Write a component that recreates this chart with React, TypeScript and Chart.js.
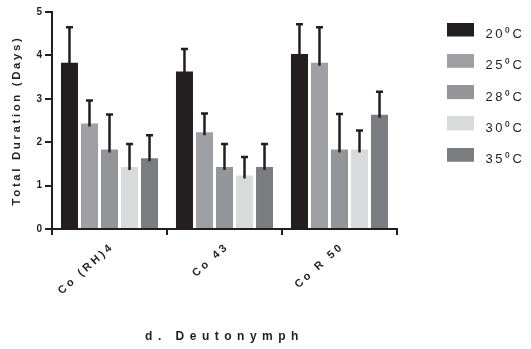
import React, { useEffect, useRef } from "react";
import { Chart, registerables } from "chart.js";

Chart.register(...registerables);

const categories = ["Co (RH)4", "Co 43", "Co R 50"];
const seriesLabels = ["20\u2070C", "25\u2070C", "28\u2070C", "30\u2070C", "35\u2070C"];
const seriesColors = ["#231f20", "#9fa0a3", "#949598", "#d9dadc", "#7b7c7f"];
const values20 = [3.83, 3.63, 4.03];
const values25 = [2.43, 2.23, 3.83];
const values28 = [1.83, 1.43, 1.83];
const values30 = [1.43, 1.23, 1.83];
const values35 = [1.63, 1.43, 2.63];
const errors20 = [0.82, 0.52, 0.69];
const errors25 = [0.53, 0.43, 0.82];
const errors28 = [0.81, 0.53, 0.82];
const errors30 = [0.53, 0.43, 0.44];
const errors35 = [0.53, 0.53, 0.53];
const yTicks = [0, 1, 2, 3, 4, 5];
const xTitle = "d. Deutonymph";
const yTitle = "Total Duration (Days)";

const allValues = [values20, values25, values28, values30, values35];
const allErrors = [errors20, errors25, errors28, errors30, errors35];

const FONT = 'Arial, "Liberation Sans", Helvetica, sans-serif';
const INK = "#231f20";

function makeSwatch(color: string) {
  const c = document.createElement("canvas");
  c.width = 32;
  c.height = 24;
  const g = c.getContext("2d");
  if (g) {
    g.fillStyle = color;
    g.fillRect(0, 0, 27, 14);
  }
  return c;
}

function withSpacing(obj: any, name: string, spacing: string) {
  const key = "__p_" + name;
  if (obj[key]) return;
  const orig = obj[name];
  obj[name] = function (...args: any[]) {
    const ctx = this.ctx;
    ctx.save();
    ctx.letterSpacing = spacing;
    const r = orig.apply(this, args);
    ctx.restore();
    return r;
  };
  obj[key] = true;
}

const layoutPlugin = {
  id: "layoutTweaks",
  beforeLayout(chart: any) {
    const lg = chart.legend;
    if (lg && !lg.__fitPatched) {
      const origFit = lg.fit;
      lg.fit = function () {
        origFit.call(this);
        this.width = 134;
      };
      lg.__fitPatched = true;
    }
  },
  afterLayout(chart: any) {
    const lg = chart.legend;
    if (lg) {
      lg.left = 428.7;
      lg.right = 428.7 + lg.width;
      lg.top = 9.7;
      withSpacing(lg, "draw", "2.5px");
    }
    withSpacing(chart.scales.x, "drawLabels", "3px");
    withSpacing(chart.scales.x, "drawTitle", "5.5px");
    withSpacing(chart.scales.y, "drawTitle", "2.6px");
  },
};

const errorBarPlugin = {
  id: "errorBars",
  afterDatasetsDraw(chart: any) {
    const ctx = chart.ctx;
    const yScale = chart.scales.y;
    ctx.save();
    ctx.strokeStyle = INK;
    ctx.lineWidth = 2.5;
    chart.data.datasets.forEach((ds: any, di: number) => {
      const meta = chart.getDatasetMeta(di);
      meta.data.forEach((bar: any, i: number) => {
        const v = allValues[di][i];
        const e = allErrors[di][i];
        const x = bar.x;
        const yTop = yScale.getPixelForValue(v + e);
        const yBase = yScale.getPixelForValue(v);
        ctx.beginPath();
        ctx.moveTo(x, yBase + 3);
        ctx.lineTo(x, yTop);
        ctx.moveTo(x - 3.5, yTop);
        ctx.lineTo(x + 3.5, yTop);
        ctx.stroke();
      });
    });
    ctx.restore();
  },
};

export default function App() {
  const ref = useRef<HTMLCanvasElement>(null);
  useEffect(() => {
    const canvas = ref.current;
    if (!canvas) return;
    const swatches = seriesColors.map(makeSwatch);
    const chart = new Chart(canvas, {
      type: "bar",
      data: {
        labels: categories,
        datasets: seriesLabels.map((label, i) => ({
          label,
          data: allValues[i],
          backgroundColor: seriesColors[i],
          borderWidth: 0,
          categoryPercentage: 0.87,
          barPercentage: 0.85,
        })),
      },
      options: {
        animation: false,
        responsive: false,
        layout: { padding: { top: 12, left: 0, right: 0, bottom: 0 } },
        plugins: {
          tooltip: { enabled: false },
          legend: {
            position: "right",
            align: "start",
            labels: {
              usePointStyle: true,
              pointStyleWidth: 32,
              boxHeight: 13,
              padding: 18.3,
              color: INK,
              font: { family: FONT, size: 13 },
              generateLabels: (chart: any) => {
                const items = Chart.defaults.plugins.legend.labels.generateLabels(chart);
                items.forEach((it: any, i: number) => {
                  it.pointStyle = swatches[i];
                });
                return items;
              },
            },
          },
        },
        scales: {
          x: {
            afterFit: (s: any) => {
              s.height = 120;
            },
            grid: {
              display: true,
              drawOnChartArea: false,
              drawTicks: true,
              tickLength: 6,
              color: INK,
              lineWidth: 2,
            },
            border: { display: true, color: INK, width: 2 },
            ticks: {
              color: INK,
              font: { family: FONT, size: 11, weight: "bold" },
              minRotation: 42,
              maxRotation: 42,
              padding: 5,
              labelOffset: 3,
            },
            title: {
              display: true,
              text: xTitle,
              color: INK,
              font: { family: FONT, size: 12, weight: "bold" },
              padding: { top: 0, bottom: 5 },
            },
          },
          y: {
            min: 0,
            max: 5,
            afterFit: (s: any) => {
              s.width = 52;
            },
            afterBuildTicks: (s: any) => {
              s.ticks = yTicks.map((v) => ({ value: v }));
            },
            grid: {
              display: true,
              drawOnChartArea: false,
              drawTicks: true,
              tickLength: 7,
              color: INK,
              lineWidth: 2,
            },
            border: { display: true, color: INK, width: 2 },
            ticks: {
              color: INK,
              font: { family: FONT, size: 10, weight: "bold" },
              padding: 3,
            },
            title: {
              display: true,
              text: yTitle,
              color: INK,
              font: { family: FONT, size: 11.5, weight: "bold" },
              padding: { top: 10, bottom: 0 },
            },
          },
        },
      },
      plugins: [layoutPlugin, errorBarPlugin],
    } as any);
    return () => chart.destroy();
  }, []);
  return (
    <canvas
      ref={ref}
      width={531}
      height={349}
      style={{ position: "absolute", left: 0, top: 0, width: 531, height: 349 }}
    />
  );
}
